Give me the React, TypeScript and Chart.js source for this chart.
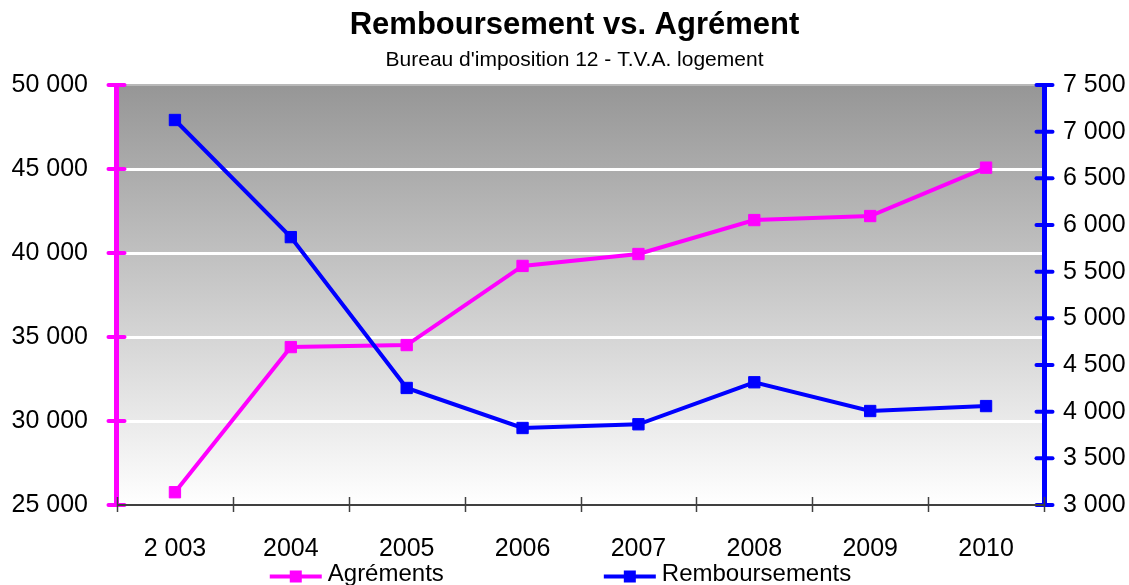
import React, { useEffect, useRef } from 'react';
import { Chart, registerables } from 'chart.js';

Chart.register(...registerables);

// ---- data ----
const categories = ['2 003', '2004', '2005', '2006', '2007', '2008', '2009', '2010'];
const agrements = [25760, 34400, 34520, 39230, 39940, 41960, 42200, 45080];
const remboursements = [7125, 5870, 4254, 3825, 3865, 4315, 4007, 4060];
const leftTicks = [25000, 30000, 35000, 40000, 45000, 50000];
const rightTicks = [3000, 3500, 4000, 4500, 5000, 5500, 6000, 6500, 7000, 7500];
const seriesLabels = ['Agréments', 'Remboursements'];
const seriesColors = ['#FF00FF', '#0000FF'];
const titleText = 'Remboursement vs. Agrément';
const subtitleText = "Bureau d'imposition 12 - T.V.A. logement";

const FONT = '"Liberation Sans", Arial, sans-serif';

const fmt = (v: number) => String(Math.round(v)).replace(/\B(?=(\d{3})+(?!\d))/g, ' ');

const decorPlugin = {
  id: 'decor',
  afterLayout(chart: any) {
    // shift the title blocks' centring slightly to the right, as in the reference
    chart.boxes.forEach((b: any) => {
      if (b.position === 'top' && b.options && b.options.text !== undefined) {
        b.left += 20;
      }
    });
  },
  beforeDraw(chart: any) {
    const { ctx, chartArea } = chart;
    const { left, top, right, bottom } = chartArea;
    const g = ctx.createLinearGradient(0, top, 0, bottom);
    g.addColorStop(0, '#969696');
    g.addColorStop(1, '#ffffff');
    ctx.save();
    ctx.fillStyle = g;
    ctx.fillRect(left, top, right - left, bottom - top);
    ctx.restore();
  },
  afterDraw(chart: any) {
    const { ctx, chartArea, scales } = chart;
    const { left, top, right, bottom } = chartArea;
    ctx.save();
    const drawAxis = (scale: any, x: number, color: string) => {
      ctx.strokeStyle = color;
      ctx.lineCap = 'butt';
      ctx.lineWidth = 5;
      ctx.beginPath();
      ctx.moveTo(x, top);
      ctx.lineTo(x, bottom);
      ctx.stroke();
      ctx.lineWidth = 4;
      ctx.lineCap = 'round';
      scale.ticks.forEach((t: any) => {
        const y = scale.getPixelForValue(t.value);
        ctx.beginPath();
        ctx.moveTo(x - 8, y);
        ctx.lineTo(x + 8, y);
        ctx.stroke();
      });
    };
    drawAxis(scales.y, left - 0.5, seriesColors[0]);
    drawAxis(scales.y1, right + 0.5, seriesColors[1]);
    // x axis
    ctx.lineCap = 'butt';
    ctx.strokeStyle = '#404040';
    ctx.lineWidth = 2;
    ctx.beginPath();
    ctx.moveTo(left, bottom);
    ctx.lineTo(right, bottom);
    ctx.stroke();
    const xs = scales.x;
    const n = categories.length;
    const bounds: number[] = [left];
    for (let i = 0; i < n - 1; i++) {
      bounds.push((xs.getPixelForTick(i) + xs.getPixelForTick(i + 1)) / 2);
    }
    bounds.push(right);
    ctx.lineWidth = 1.5;
    bounds.forEach((bx) => {
      const px = Math.round(bx) + 0.5;
      ctx.beginPath();
      ctx.moveTo(px, bottom - 8);
      ctx.lineTo(px, bottom + 7);
      ctx.stroke();
    });
    // legend
    ctx.font = `24px ${FONT}`;
    ctx.textBaseline = 'middle';
    ctx.textAlign = 'left';
    const datasets = chart.data.datasets;
    const widths = datasets.map((d: any) => 58 + ctx.measureText(d.label).width);
    const gap = 160;
    const total = widths.reduce((a: number, b: number) => a + b, 0) + gap * (datasets.length - 1);
    let x = chart.width / 2 - total / 2 - 4;
    datasets.forEach((d: any, i: number) => {
      ctx.strokeStyle = d.borderColor;
      ctx.fillStyle = d.borderColor;
      ctx.lineWidth = 4;
      ctx.beginPath();
      ctx.moveTo(x, 576.5);
      ctx.lineTo(x + 52, 576.5);
      ctx.stroke();
      ctx.fillRect(x + 20, 570.5, 12, 12);
      ctx.fillStyle = '#000000';
      ctx.fillText(d.label, x + 58, 574);
      x += widths[i] + gap;
    });
    ctx.restore();
  },
};

export default function App() {
  const ref = useRef<HTMLCanvasElement>(null);
  useEffect(() => {
    if (!ref.current) return;
    const chart = new Chart(ref.current, {
      type: 'line',
      data: {
        labels: categories,
        datasets: [
          {
            label: seriesLabels[0],
            data: agrements,
            yAxisID: 'y',
            borderColor: seriesColors[0],
            backgroundColor: seriesColors[0],
            borderWidth: 4,
            pointStyle: 'rect',
            pointRadius: 8,
            pointBorderWidth: 1,
            pointBackgroundColor: seriesColors[0],
            pointBorderColor: seriesColors[0],
            tension: 0,
            order: 1,
          },
          {
            label: seriesLabels[1],
            data: remboursements,
            yAxisID: 'y1',
            borderColor: seriesColors[1],
            backgroundColor: seriesColors[1],
            borderWidth: 4,
            pointStyle: 'rect',
            pointRadius: 8,
            pointBorderWidth: 1,
            pointBackgroundColor: seriesColors[1],
            pointBorderColor: seriesColors[1],
            tension: 0,
            order: 0,
          },
        ],
      },
      options: {
        animation: false,
        responsive: true,
        maintainAspectRatio: false,
        layout: { padding: 0 },
        plugins: {
          legend: { display: false },
          tooltip: { enabled: false },
          title: {
            display: true,
            text: titleText,
            color: '#000000',
            font: { family: FONT, size: 31, weight: 'bold', lineHeight: 1 },
            padding: { top: 10, bottom: 0 },
          },
          subtitle: {
            display: true,
            text: subtitleText,
            color: '#000000',
            font: { family: FONT, size: 21, weight: 'normal', lineHeight: 1 },
            padding: { top: 9, bottom: 14 },
          },
        },
        scales: {
          x: {
            type: 'category',
            offset: true,
            grid: { display: false },
            border: { display: false },
            ticks: {
              color: '#000000',
              font: { family: FONT, size: 25 },
              padding: 21,
              autoSkip: false,
              maxRotation: 0,
              minRotation: 0,
            },
            afterFit: (s: any) => {
              s.height = 80;
            },
          },
          y: {
            type: 'linear',
            position: 'left',
            min: leftTicks[0],
            max: leftTicks[leftTicks.length - 1],
            afterBuildTicks: (s: any) => {
              s.ticks = leftTicks.map((v) => ({ value: v }));
            },
            grid: {
              drawTicks: false,
              color: (c: any) => (c.tick && c.tick.value === leftTicks[leftTicks.length - 1] ? '#b8b8b8' : '#ffffff'),
              lineWidth: (c: any) => (c.tick && c.tick.value === leftTicks[leftTicks.length - 1] ? 2 : 3),
            },
            border: { display: false },
            ticks: {
              color: '#000000',
              font: { family: FONT, size: 25 },
              padding: 29,
              callback: (v: any) => fmt(Number(v)),
            },
            afterFit: (s: any) => {
              s.width = 117;
            },
          },
          y1: {
            type: 'linear',
            position: 'right',
            min: rightTicks[0],
            max: rightTicks[rightTicks.length - 1],
            afterBuildTicks: (s: any) => {
              s.ticks = rightTicks.map((v) => ({ value: v }));
            },
            grid: { display: false, drawTicks: false },
            border: { display: false },
            ticks: {
              color: '#000000',
              font: { family: FONT, size: 25 },
              padding: 19,
              callback: (v: any) => fmt(Number(v)),
            },
            afterFit: (s: any) => {
              s.width = 85;
            },
          },
        },
      },
      plugins: [decorPlugin],
    });
    return () => chart.destroy();
  }, []);
  return (
    <div style={{ position: 'absolute', left: 0, top: 0, width: 1129, height: 585 }}>
      <canvas ref={ref} />
    </div>
  );
}
